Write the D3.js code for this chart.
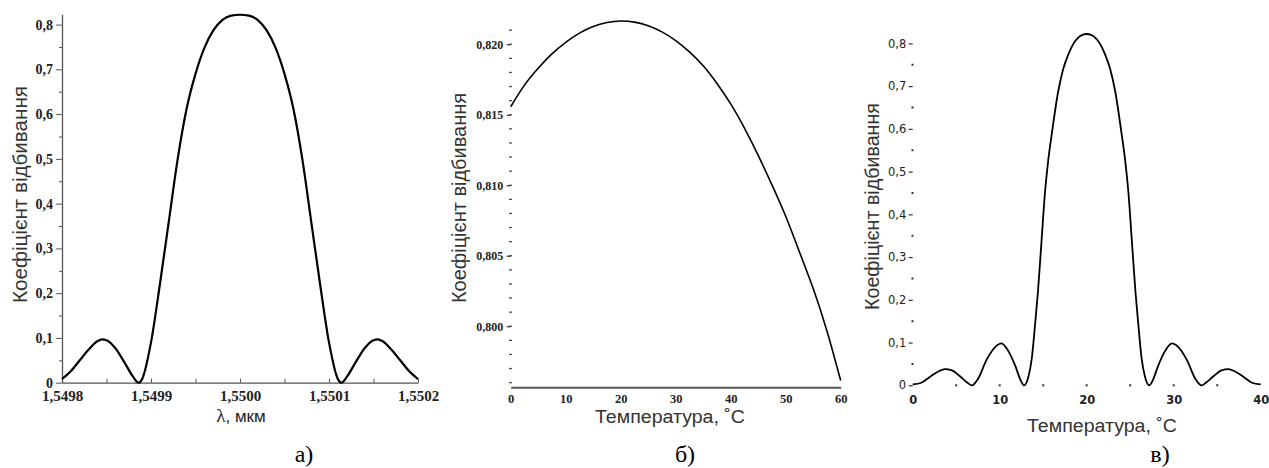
<!DOCTYPE html>
<html>
<head>
<meta charset="utf-8">
<script src="https://cdn.jsdelivr.net/npm/d3@7"></script>
<style>
    body { margin: 0; background: #fff; }
</style>
</head>
<body>
<svg id="chart" width="1269" height="468"></svg>
<script>
"use strict"

// а) коефіцієнт відбивання від довжини хвилі
var lambdaA = [1.54980, 1.54981, 1.54982, 1.54983, 1.54984, 1.549845, 1.54985, 1.54986, 1.54987, 1.54988,
    1.549886, 1.54989, 1.54990, 1.54991, 1.54992, 1.54993, 1.54994, 1.54995, 1.54996, 1.54997, 1.54998,
    1.54999, 1.55000, 1.55001, 1.55002, 1.55003, 1.55004, 1.55005, 1.55006, 1.55007, 1.55008, 1.55009,
    1.55010, 1.55011, 1.550114, 1.55012, 1.55013, 1.55014, 1.55015, 1.550155, 1.55016, 1.55017, 1.55018,
    1.55019, 1.55020];
var reflA = [0.008, 0.026, 0.050, 0.074, 0.093, 0.097, 0.095, 0.077, 0.046, 0.013,
    0.000, 0.008, 0.090, 0.220, 0.360, 0.500, 0.612, 0.690, 0.748, 0.787, 0.810,
    0.820, 0.822, 0.820, 0.810, 0.787, 0.748, 0.690, 0.612, 0.500, 0.360, 0.220,
    0.090, 0.008, 0.000, 0.013, 0.046, 0.077, 0.095, 0.097, 0.093, 0.074, 0.050,
    0.026, 0.008];

// б) коефіцієнт відбивання від температури (вузький діапазон)
var tempB = [0, 2.5, 5, 7.5, 10, 12.5, 15, 17.5, 20, 22.5, 25, 27.5, 30, 32.5, 35, 37.5, 40,
    42.5, 45, 47.5, 50, 52.5, 55, 57.5, 60];
var reflB = [0.81557, 0.81710, 0.81830, 0.81932, 0.82014, 0.82079, 0.82126, 0.82154, 0.82165, 0.82157,
    0.82132, 0.82088, 0.82026, 0.81946, 0.81847, 0.81722, 0.81577, 0.81405, 0.81212, 0.81003, 0.80780,
    0.80527, 0.80268, 0.79967, 0.79615];

// в) коефіцієнт відбивання від температури
var tempC = [0, 1, 2, 3, 3.7, 4.5, 5.5, 6.3, 6.8, 7.5, 8.5, 9.5, 10.2, 11, 11.8, 12.4, 12.8,
    13.3, 13.7, 14.1, 14.4, 14.8, 15.2, 15.6, 16, 16.7, 17.3, 17.9, 18.5, 19, 19.5, 20,
    20.5, 21, 21.5, 22.1, 22.7, 23.3, 24, 24.4, 24.8, 25.2, 25.6, 25.9, 26.3, 26.7, 27.2,
    27.6, 28.2, 29, 29.8, 30.5, 31.5, 32.5, 33.2, 33.7, 34.5, 35.5, 36.3, 37, 38, 39, 40];
var reflC = [0.002, 0.006, 0.020, 0.033, 0.038, 0.035, 0.020, 0.006, 0.000, 0.015, 0.060, 0.090,
    0.098, 0.080, 0.045, 0.012, 0.000, 0.020, 0.065, 0.150, 0.220, 0.335, 0.450, 0.530, 0.590,
    0.685, 0.740, 0.775, 0.800, 0.813, 0.820, 0.822,
    0.820, 0.813, 0.800, 0.775, 0.740, 0.685, 0.590, 0.530, 0.450, 0.335, 0.220, 0.150, 0.065,
    0.020, 0.000, 0.012, 0.045, 0.080, 0.098, 0.090, 0.060, 0.015, 0.000, 0.006, 0.020, 0.035,
    0.038, 0.033, 0.020, 0.006, 0.002];

// Поділки осей
var ticksA_x = [1.5498, 1.5499, 1.5500, 1.5501, 1.5502];
var labelsA_x = ["1,5498", "1,5499", "1,5500", "1,5501", "1,5502"];
var ticksA_y = [0, 0.1, 0.2, 0.3, 0.4, 0.5, 0.6, 0.7, 0.8];
var labelsA_y = ["0", "0,1", "0,2", "0,3", "0,4", "0,5", "0,6", "0,7", "0,8"];

var ticksB_x = [0, 10, 20, 30, 40, 50, 60];
var labelsB_x = ["0", "10", "20", "30", "40", "50", "60"];
var ticksB_y = [0.800, 0.805, 0.810, 0.815, 0.820];
var labelsB_y = ["0,800", "0,805", "0,810", "0,815", "0,820"];

var ticksC_x = [0, 10, 20, 30, 40];
var labelsC_x = ["0", "10", "20", "30", "40"];
var ticksC_y = [0, 0.1, 0.2, 0.3, 0.4, 0.5, 0.6, 0.7, 0.8];
var labelsC_y = ["0", "0,1", "0,2", "0,3", "0,4", "0,5", "0,6", "0,7", "0,8"];

var yTitle = "Коефіцієнт відбивання";
var tTitle = "Температура, ˚С";
var captions = ["а)", "б)", "в)"];

var svg = d3.select("#chart");


function drawCurve(xs, ys, x, y, width, curve) {
    var pts = xs.map(function(d, i) { return [d, ys[i]]; });
    var line = d3.line()
        .x(function(d) { return x(d[0]); })
        .y(function(d) { return y(d[1]); })
        .curve(curve);
    svg.append("path")
        .datum(pts)
        .attr("fill", "none")
        .attr("stroke", "#000")
        .attr("stroke-width", width)
        .attr("stroke-linejoin", "round")
        .attr("d", line);
}

function styleTicks(g, family, size, weight) {
    g.attr("font-family", null).attr("font-size", null);
    g.selectAll("text")
        .attr("font-family", family)
        .attr("font-size", size)
        .attr("font-weight", weight)
        .attr("fill", "#222");
}

function yLabel(cx, cy, len) {
    svg.append("text")
        .attr("transform", "translate(" + cx + "," + cy + ") rotate(-90)")
        .attr("text-anchor", "middle")
        .attr("dy", "0.35em")
        .attr("textLength", len)
        .attr("lengthAdjust", "spacingAndGlyphs")
        .attr("font-family", "Liberation Sans, Arial, sans-serif")
        .attr("font-size", 20)
        .attr("fill", "#333")
        .text(yTitle);
}

function xLabel(cx, cy) {
    svg.append("text")
        .attr("x", cx)
        .attr("y", cy)
        .attr("text-anchor", "middle")
        .attr("textLength", 150)
        .attr("lengthAdjust", "spacingAndGlyphs")
        .attr("font-family", "Liberation Sans, Arial, sans-serif")
        .attr("font-size", 18)
        .attr("fill", "#333")
        .text(tTitle);
}

function caption(txt, cx) {
    svg.append("text")
        .attr("x", cx)
        .attr("y", 461.5)
        .attr("text-anchor", "middle")
        .attr("font-family", "Liberation Serif, Times New Roman, serif")
        .attr("font-size", 24)
        .attr("fill", "#000")
        .text(txt);
}


// ---------- а) ----------
var xA = d3.scaleLinear().domain([1.5498, 1.5502]).range([62, 418]);
var yA = d3.scaleLinear().domain([0, 0.823]).range([382.7, 14.3]);

var gAy = svg.append("g")
    .attr("transform", "translate(62,0)")
    .call(d3.axisLeft(yA).tickValues(ticksA_y).tickSize(6).tickSizeOuter(0).tickPadding(3)
        .tickFormat(function(d, i) { return labelsA_y[i]; }));
styleTicks(gAy, "Liberation Serif, serif", 14, "bold");

svg.append("g")
    .attr("transform", "translate(62,0)")
    .call(d3.axisLeft(yA).tickValues(d3.range(0.05, 0.8, 0.1)).tickSize(3).tickFormat(""))
    .select(".domain").remove();

var gAx = svg.append("g")
    .attr("transform", "translate(0,382.7)")
    .call(d3.axisBottom(xA).tickValues(ticksA_x).tickSize(-4).tickSizeOuter(0).tickPadding(8)
        .tickFormat(function(d, i) { return labelsA_x[i]; }));
styleTicks(gAx, "Liberation Serif, serif", 15, "bold");

svg.append("g")
    .attr("transform", "translate(0,382.7)")
    .call(d3.axisBottom(xA).tickValues([1.54985, 1.54995, 1.55005, 1.55015]).tickSize(-4).tickFormat(""))
    .select(".domain").remove();

svg.selectAll(".domain").attr("stroke", "#555").attr("stroke-width", 1.3);
svg.selectAll(".tick line").attr("stroke", "#555");

drawCurve(lambdaA, reflA, xA, yA, 2.2, d3.curveMonotoneX);
yLabel(20, 194.5, 217);

var xtA = svg.append("text")
    .attr("x", 241)
    .attr("y", 422)
    .attr("text-anchor", "middle")
    .attr("fill", "#222");
xtA.append("tspan")
    .attr("font-family", "Liberation Serif, serif")
    .attr("font-size", 19)
    .text("λ");
xtA.append("tspan")
    .attr("font-family", "Liberation Sans, Arial, sans-serif")
    .attr("font-size", 17)
    .text(", мкм");

caption(captions[0], 304);


// ---------- б) ----------
var xB = d3.scaleLinear().domain([0, 60]).range([510.7, 840.7]);
var yB = d3.scaleLinear().domain([0.79567, 0.8216]).range([387.3, 21.7]);

// вісь Y без лінії, тільки штрихи
var gBy = svg.append("g")
    .attr("transform", "translate(510.7,0)")
    .call(d3.axisLeft(yB).tickValues(ticksB_y).tickSize(4).tickSizeOuter(0).tickPadding(3.5)
        .tickFormat(function(d, i) { return labelsB_y[i]; }));
gBy.select(".domain").remove();
gBy.selectAll(".tick line").attr("stroke", "#333").attr("stroke-width", 1.2);
styleTicks(gBy, "Liberation Serif, serif", 12, "bold");

svg.append("g")
    .selectAll("line")
    .data(d3.range(0.796, 0.8215, 0.001))
    .enter()
    .append("line")
    .attr("x1", 509.2)
    .attr("x2", 511.8)
    .attr("y1", function(d) { return yB(d); })
    .attr("y2", function(d) { return yB(d); })
    .attr("stroke", "#333")
    .attr("stroke-width", 1.3);

var gBx = svg.append("g")
    .attr("transform", "translate(0,387.3)")
    .call(d3.axisBottom(xB).tickValues(ticksB_x).tickSize(0).tickSizeOuter(0).tickPadding(7)
        .tickFormat(function(d, i) { return labelsB_x[i]; }));
gBx.select(".domain").attr("stroke", "#555").attr("stroke-width", 2);
styleTicks(gBx, "Liberation Serif, serif", 12.5, "bold");

drawCurve(tempB, reflB, xB, yB, 1.6, d3.curveNatural);
yLabel(459, 198, 210);
xLabel(670, 422.5);

caption(captions[1], 685);


// ---------- в) ----------
var xC = d3.scaleLinear().domain([0, 40]).range([912.7, 1260.7]);
var yC = d3.scaleLinear().domain([0, 0.825]).range([385.3, 32.7]);

var gCy = svg.append("g")
    .attr("transform", "translate(912.7,0)")
    .call(d3.axisLeft(yC).tickValues(ticksC_y).tickSize(4).tickSizeOuter(0).tickPadding(2.5)
        .tickFormat(function(d, i) { return labelsC_y[i]; }));
gCy.select(".domain").remove();
gCy.selectAll(".tick line").attr("stroke", "#333").attr("stroke-width", 1.2);
styleTicks(gCy, "DejaVu Sans, sans-serif", 11.5, "normal");

// точки проміжних поділок
svg.append("g")
    .selectAll("rect")
    .data(d3.range(0.05, 0.83, 0.1))
    .enter()
    .append("rect")
    .attr("x", 911.5)
    .attr("y", function(d) { return yC(d) - 1; })
    .attr("width", 2)
    .attr("height", 2)
    .attr("fill", "#333");

svg.append("g")
    .selectAll("rect")
    .data(d3.range(5, 40, 5))
    .enter()
    .append("rect")
    .attr("x", function(d) { return xC(d) - 1; })
    .attr("y", 384.3)
    .attr("width", 2)
    .attr("height", 2)
    .attr("fill", "#333");

var gCx = svg.append("g")
    .attr("transform", "translate(0,385.3)")
    .call(d3.axisBottom(xC).tickValues(ticksC_x).tickSize(0).tickSizeOuter(0).tickPadding(10.5)
        .tickFormat(function(d, i) { return labelsC_x[i]; }));
gCx.select(".domain").remove();
styleTicks(gCx, "DejaVu Sans, sans-serif", 11.5, "bold");

drawCurve(tempC, reflC, xC, yC, 1.8, d3.curveMonotoneX);
yLabel(872, 206.5, 207);
xLabel(1102, 431.7);

caption(captions[2], 1160);
</script>
</body>
</html>
